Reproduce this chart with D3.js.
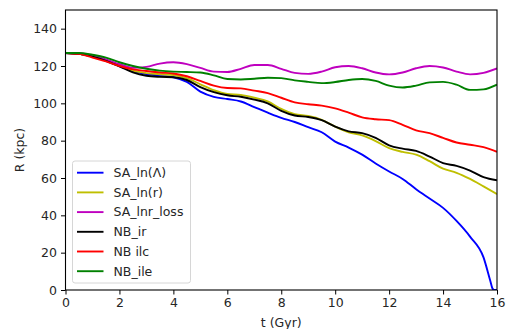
<!DOCTYPE html>
<html>
<head>
<meta charset="utf-8">
<script src="https://cdn.jsdelivr.net/npm/d3@7"></script>
<style>
  body { margin: 0; background: #fff; }
  svg { display: block; font-family: "DejaVu Sans", sans-serif; }
</style>
</head>
<body>
<svg width="507" height="329"></svg>
<script>
// time grid (Gyr), every 0.5
var tGyr = [0,0.5,1,1.5,2,2.5,3,3.5,4,4.5,5,5.5,6,6.5,7,7.5,8,8.5,9,9.5,10,10.5,11,11.5,12,12.5,13,13.5,14,14.5,15,15.5,16];
// blue run hits zero before 16, so it gets a few extra points
var tBlue = tGyr.slice(0, 32).concat([15.75, 15.84, 15.9, 16]);

var saLnLambda = [127,126.5,125,122.8,120,117.3,115.7,114.8,114,111.5,106.3,103.5,102.3,101,98,95,92.2,90,87.2,84.5,79.5,76.3,72.5,67.8,63.5,59.5,54,49,44,37,28.6,17.5,5,0.6,0,0];
var saLnR = [127,126.5,125,123,120.2,117.5,116.2,115.6,115.2,113.5,110.2,107,105,104.5,103,101,97,94.2,93.2,91.2,87.5,84.5,82.8,79.8,76,74,72.5,69,65,62.8,59.5,55.5,51.4];
var saLnrLoss = [127,126.8,125.5,123.5,121,119,119.5,121.3,122,121,119,117,116.8,118.5,120.5,120.5,118.5,116.3,115.8,117,119.3,120,118.8,116.5,115.5,116.5,118.8,120,119.2,117,115.5,116.3,118.7];
var nbIr = [127,126.5,125,122.8,119.8,116.6,114.8,114.2,114,112.5,108.7,106,104.3,103.5,102,100,96,93.5,92.7,91,87.5,85,84,81.5,77.5,75.7,74.5,71.5,68,66.5,64,60.5,58.8];
var nbIlc = [127,126.5,124.5,122.5,120,118.2,117.3,116.5,116,114.5,112,109.5,108.2,108,106.8,105.5,103,100.5,99.5,98.8,97.3,95,92.5,91.5,91,88.5,85.5,84,81.5,79,77.8,76.5,74];
var nbIle = [127,127,126,124.5,122,120,118.5,117.5,117,116.8,116.5,115,113,112.8,113.2,113.7,113.5,112.3,111.5,110.8,111.4,112.5,113,112,109.5,108.5,109.5,111.2,111.5,110,107.2,107.5,110];

var seriesNames = ["SA_ln(\u039b)", "SA_ln(r)", "SA_lnr_loss", "NB_ir", "NB ilc", "NB_ile"];
var seriesColors = ["#0000ff", "#bfbf00", "#bf00bf", "#000000", "#ff0000", "#008000"];

var xTicks = [0,2,4,6,8,10,12,14,16];
var yTicks = [0,20,40,60,80,100,120,140];

var svg = d3.select("svg"),
    margin = {top: 10, right: 10, bottom: 39, left: 65.5},
    width = 507 - margin.left - margin.right,
    height = 329 - margin.top - margin.bottom,
    g = svg.append("g").attr("transform", "translate(" + margin.left + "," + margin.top + ")");

var x = d3.scaleLinear().domain([0, 16]).range([0, width]),
    y = d3.scaleLinear().domain([0, 150]).range([height, 0]);

var runs = [
  {t: tBlue, r: saLnLambda},
  {t: tGyr, r: saLnR},
  {t: tGyr, r: saLnrLoss},
  {t: tGyr, r: nbIr},
  {t: tGyr, r: nbIlc},
  {t: tGyr, r: nbIle}
].map(function(s, i) {
  return {name: seriesNames[i], color: seriesColors[i],
          values: s.t.map(function(t, j) { return {t: t, r: s.r[j]}; })};
});

var line = d3.line()
    .curve(d3.curveMonotoneX)
    .x(function(d) { return x(d.t); })
    .y(function(d) { return y(d.r); });

g.append("defs").append("clipPath").attr("id", "clip")
  .append("rect").attr("width", width).attr("height", height);

g.append("g").attr("clip-path", "url(#clip)")
  .selectAll("path")
  .data(runs)
  .enter().append("path")
    .attr("d", function(d) { return line(d.values); })
    .attr("fill", "none")
    .attr("stroke", function(d) { return d.color; })
    .attr("stroke-width", 1.9)
    .attr("stroke-linejoin", "round");

// axes
var xAxis = g.append("g")
    .attr("transform", "translate(0," + height + ")")
    .call(d3.axisBottom(x).tickValues(xTicks).tickSize(4.5).tickPadding(4).tickFormat(d3.format("d")));
var yAxis = g.append("g")
    .call(d3.axisLeft(y).tickValues(yTicks).tickSize(4.5).tickPadding(4).tickFormat(d3.format("d")));

[xAxis, yAxis].forEach(function(a) {
  a.select(".domain").remove();
  a.selectAll("line").attr("stroke", "#000").attr("stroke-width", 1);
  a.selectAll("text").attr("fill", "#262626").style("font-size", "12.5px").style("font-family", "DejaVu Sans");
});

// frame
g.append("rect")
    .attr("width", width).attr("height", height)
    .attr("fill", "none").attr("stroke", "#000").attr("stroke-width", 1.1);

svg.append("text")
    .attr("x", margin.left + width / 2).attr("y", 327)
    .attr("text-anchor", "middle")
    .style("font-size", "12.5px").attr("fill", "#262626")
    .text("t (Gyr)");

svg.append("text")
    .attr("transform", "translate(24," + (margin.top + height / 2) + ") rotate(-90)")
    .attr("text-anchor", "middle")
    .style("font-size", "12.5px").attr("fill", "#262626")
    .text("R (kpc)");

// legend
var legend = g.append("g").attr("transform", "translate(7,151)");
legend.append("rect")
    .attr("width", 118).attr("height", 122)
    .attr("rx", 2.5)
    .attr("fill", "#fff").attr("fill-opacity", 0.8)
    .attr("stroke", "#d6d6d6").attr("stroke-width", 1);

var item = legend.selectAll(".item")
    .data(runs)
    .enter().append("g")
      .attr("transform", function(d, i) { return "translate(0," + (11.7 + i * 19.7) + ")"; });

item.append("line")
    .attr("x1", 4.5).attr("x2", 31)
    .attr("stroke", function(d) { return d.color; })
    .attr("stroke-width", 1.9);

item.append("text")
    .attr("x", 41).attr("dy", "0.35em")
    .style("font-size", "12.5px").attr("fill", "#262626")
    .text(function(d) { return d.name; });
</script>
</body>
</html>
